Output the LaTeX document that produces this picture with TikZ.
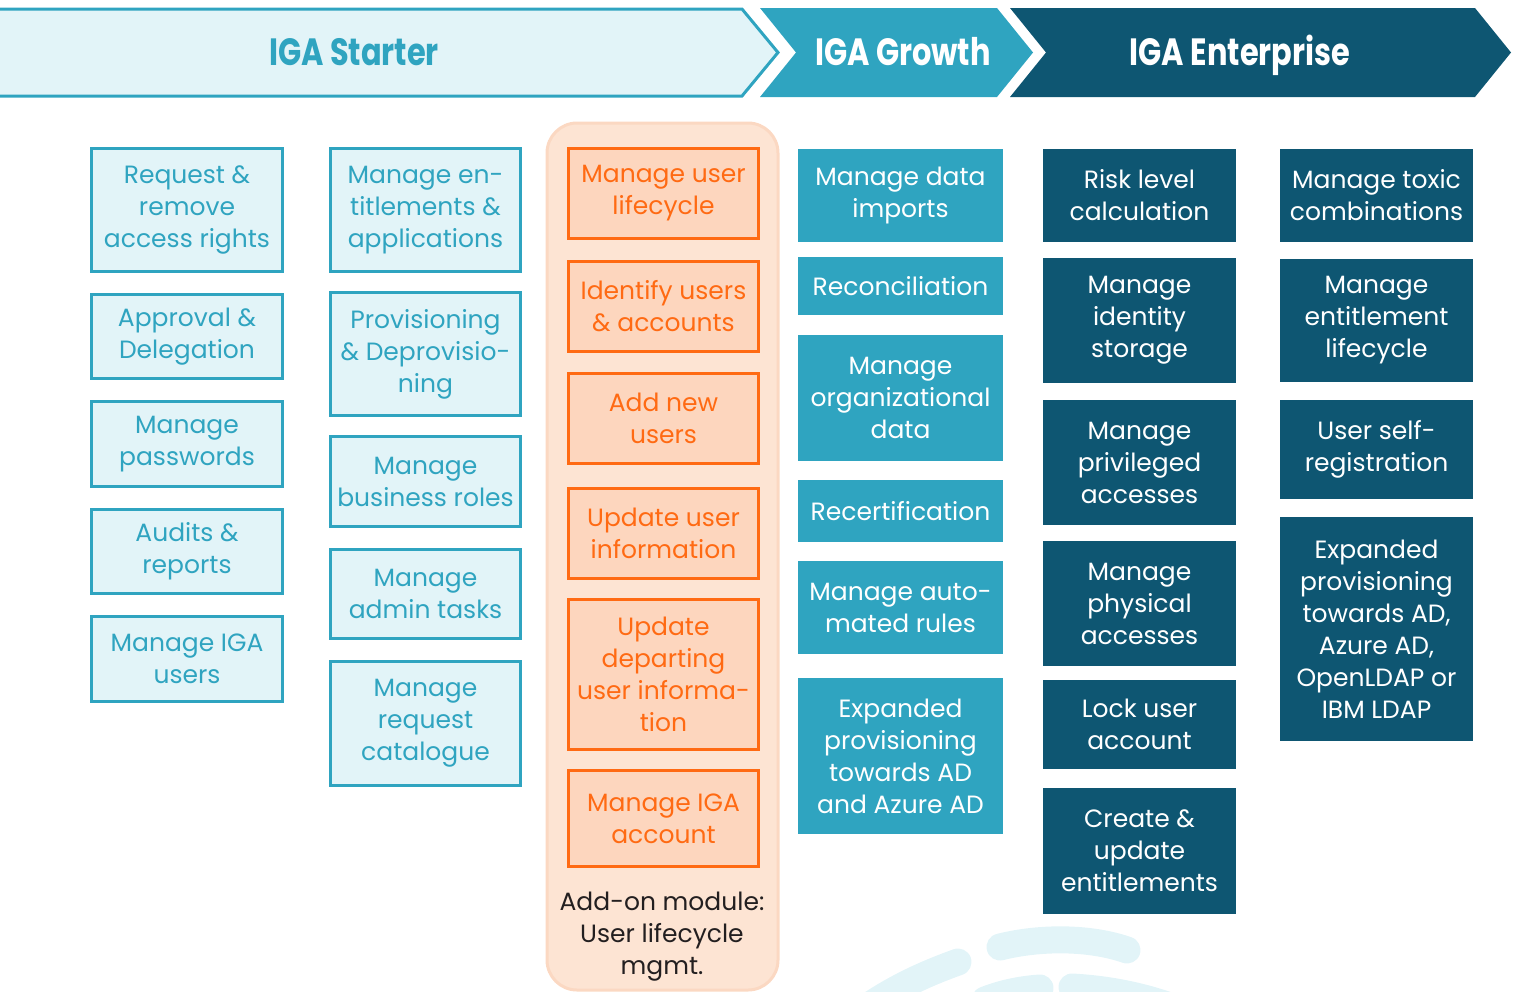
\documentclass[tikz,border=0pt]{standalone}
\usepackage{fontspec}
\setmainfont{Poppins}
\newfontfamily\headfont{Poppins}[FakeStretch=0.8]
\definecolor{igacyan}{HTML}{2FA4C0}
\definecolor{igalight}{HTML}{E2F4F8}
\definecolor{igadark}{HTML}{0E5672}
\definecolor{igaorange}{HTML}{FF6A13}
\definecolor{orangefill}{HTML}{FDD6BE}
\definecolor{panelfill}{HTML}{FDE4D3}
\definecolor{panelline}{HTML}{FBD8C2}
\definecolor{addontext}{HTML}{231F20}
\begin{document}
\begin{tikzpicture}[x=0.5pt, y=-0.5pt,
    box/.style={rectangle, align=center, inner sep=0pt, font=\fontsize{12.5}{16}\selectfont},
    starter/.style={box, draw=igacyan, fill=igalight, text=igacyan, line width=1.5pt, minimum width=95.5pt},
    addon/.style={box, draw=igaorange, fill=orangefill, text=igaorange, line width=1.5pt, minimum width=95pt},
    growth/.style={box, fill=igacyan, text=white, minimum width=102.5pt},
    enterprise/.style={box, fill=igadark, text=white, minimum width=96.5pt},
    headtext/.style={anchor=base, font=\headfont\bfseries\fontsize{19}{22}\selectfont}]
    \useasboundingbox (0,0) rectangle (1520,991);
    \clip (0,0) rectangle (1520,991);

    \draw[igalight, line width=13.5pt, line cap=round] (1000,947) .. controls (1040,937) and (1090,937) .. (1127,950);
    \draw[igalight, line width=13.5pt, line cap=round] (958,962) .. controls (930,972) and (900,985) .. (870,1005);
    \draw[igalight, line width=13.5pt, line cap=round] (985,1000) .. controls (1005,992) and (1025,989) .. (1040,988);
    \draw[igalight, line width=13.5pt, line cap=round] (1072,987) .. controls (1110,989) and (1150,997) .. (1185,1012);

    \draw[fill=igalight, draw=igacyan, line width=1.5pt] (-10,9) -- (742,9) -- (778,52.5) -- (742,96) -- (-10,96) -- cycle;
    \fill[igacyan] (760,8) -- (997,8) -- (1033,52.5) -- (997,97) -- (760,97) -- (796,52.5) -- cycle;
    \fill[igadark] (1010,8) -- (1475,8) -- (1511,52.5) -- (1475,97) -- (1010,97) -- (1046,52.5) -- cycle;
    \node[headtext, text=igacyan] (starterhead) at (354,65) {IGA Starter};
    \node[headtext, text=white] (growthhead) at (903,65) {IGA Growth};
    \node[headtext, text=white] (enterprisehead) at (1240,65) {IGA Enterprise};

    \node[starter, minimum height=61.5pt] (reqrights) at (187,210) {Request \&\\remove\\access rights};
    \node[starter, minimum height=42pt] (approval) at (187,336.5) {Approval \&\\Delegation};
    \node[starter, minimum height=42.5pt] (passwords) at (187,444) {Manage\\passwords};
    \node[starter, minimum height=42pt] (audits) at (187,551.5) {Audits \&\\reports};
    \node[starter, minimum height=42.5pt] (igausers) at (187,659) {Manage IGA\\users};

    \node[starter, minimum width=95pt, minimum height=61.5pt] (entapps) at (425.5,210) {Manage en-\\titlements \&\\applications};
    \node[starter, minimum width=95pt, minimum height=61.5pt] (provision) at (425.5,354) {Provisioning\\\& Deprovisio-\\ning};
    \node[starter, minimum width=95pt, minimum height=45pt] (bizroles) at (425.5,481.5) {Manage\\business roles};
    \node[starter, minimum width=95pt, minimum height=44.5pt] (admintasks) at (425.5,594) {Manage\\admin tasks};
    \node[starter, minimum width=95pt, minimum height=62pt] (catalogue) at (425.5,723.5) {Manage\\request\\catalogue};

    \draw[fill=panelfill, draw=panelline, line width=1.5pt, rounded corners=15pt] (547,123) rectangle (778,990);
    \node[addon, minimum height=45pt] (lifecycle) at (663.5,193.5) {Manage user\\lifecycle};
    \node[addon, minimum height=45pt] (identify) at (663.5,306.5) {Identify users\\\& accounts};
    \node[addon, minimum height=45pt] (addnew) at (663.5,418.5) {Add new\\users};
    \node[addon, minimum height=45pt] (updinfo) at (663.5,533.5) {Update user\\information};
    \node[addon, minimum height=75pt] (departing) at (663.5,674.5) {Update\\departing\\user informa-\\tion};
    \node[addon, minimum height=48pt] (igaacct) at (663.5,818.5) {Manage IGA\\account};
    \node[box, text=addontext] (addonlabel) at (662,937) {Add-on module:\\User lifecycle\\mgmt.};

    \node[growth, minimum height=46.5pt] (imports) at (900.5,195.5) {Manage data\\imports};
    \node[growth, minimum height=29pt] (recon) at (900.5,286) {Reconciliation};
    \node[growth, minimum height=63pt] (orgdata) at (900.5,398) {Manage\\organizational\\data};
    \node[growth, minimum height=31pt] (recert) at (900.5,511) {Recertification};
    \node[growth, minimum height=46.5pt] (autorules) at (900.5,607.5) {Manage auto-\\mated rules};
    \node[growth, minimum height=78pt] (growthprov) at (900.5,756) {Expanded\\provisioning\\towards AD\\and Azure AD};

    \node[enterprise, minimum height=46.5pt] (risk) at (1139.5,195.5) {Risk level\\calculation};
    \node[enterprise, minimum height=62.5pt] (idstorage) at (1139.5,320.5) {Manage\\identity\\storage};
    \node[enterprise, minimum height=62.5pt] (privileged) at (1139.5,462.5) {Manage\\privileged\\accesses};
    \node[enterprise, minimum height=62.5pt] (physical) at (1139.5,603.5) {Manage\\physical\\accesses};
    \node[enterprise, minimum height=44.5pt] (lock) at (1139.5,724.5) {Lock user\\account};
    \node[enterprise, minimum height=63pt] (createupd) at (1139.5,851) {Create \&\\update\\entitlements};

    \node[enterprise, minimum height=46.5pt] (toxic) at (1376.5,195.5) {Manage toxic\\combinations};
    \node[enterprise, minimum height=61.5pt] (entlife) at (1376.5,320.5) {Manage\\entitlement\\lifecycle};
    \node[enterprise, minimum height=49.5pt] (selfreg) at (1376.5,449.5) {User self-\\registration};
    \node[enterprise, minimum height=112pt] (entprov) at (1376.5,629) {Expanded\\provisioning\\towards AD,\\Azure AD,\\OpenLDAP or\\IBM LDAP};
  \end{tikzpicture}
\end{document}
